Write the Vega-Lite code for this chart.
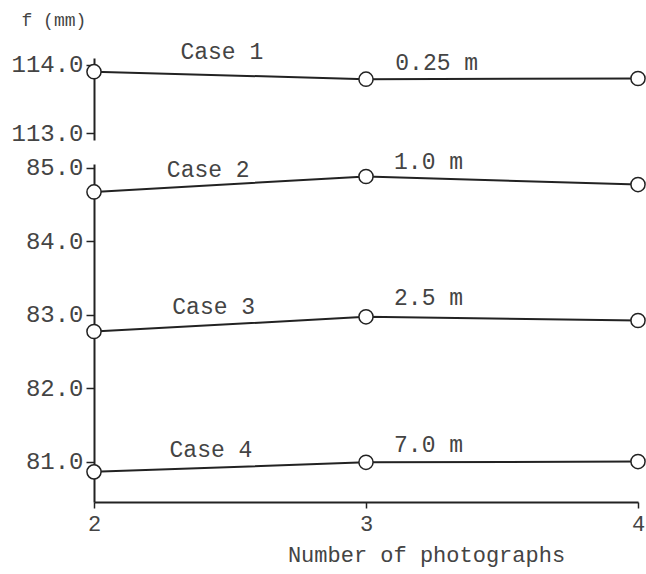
{
  "$schema": "https://vega.github.io/schema/vega-lite/v6.json",
  "background": "white",
  "padding": {"left": 10, "top": 11, "right": 0, "bottom": 12},
  "spacing": 4,
  "config": {
    "font": "Liberation Mono",
    "view": {"stroke": null},
    "axis": {
      "domainColor": "#222",
      "domainWidth": 2,
      "tickColor": "#222",
      "tickWidth": 1.5,
      "tickSize": 8,
      "labelColor": "#444",
      "labelFont": "Liberation Mono",
      "labelFontSize": 24,
      "labelPadding": 3,
      "labelOverlap": false,
      "labelFlush": false,
      "titleColor": "#444",
      "titleFont": "Liberation Mono",
      "titleFontWeight": "normal",
      "grid": false,
      "zindex": 1
    }
  },
  "datasets": {
    "pts": [
      {"segment": "upper", "case": "Case 1", "n": 2, "f": 113.9},
      {"segment": "upper", "case": "Case 1", "n": 3, "f": 113.79},
      {"segment": "upper", "case": "Case 1", "n": 4, "f": 113.8},
      {"segment": "lower", "case": "Case 2", "n": 2, "f": 84.67},
      {"segment": "lower", "case": "Case 2", "n": 3, "f": 84.88},
      {"segment": "lower", "case": "Case 2", "n": 4, "f": 84.77},
      {"segment": "lower", "case": "Case 3", "n": 2, "f": 82.77},
      {"segment": "lower", "case": "Case 3", "n": 3, "f": 82.97},
      {"segment": "lower", "case": "Case 3", "n": 4, "f": 82.92},
      {"segment": "lower", "case": "Case 4", "n": 2, "f": 80.86},
      {"segment": "lower", "case": "Case 4", "n": 3, "f": 80.99},
      {"segment": "lower", "case": "Case 4", "n": 4, "f": 81.0}
    ],
    "labels": [
      {"segment": "upper", "n": 2.47, "f": 114.19, "text": "Case 1"},
      {"segment": "upper", "n": 3.26, "f": 114.03, "text": "0.25 m"},
      {"segment": "lower", "n": 2.42, "f": 84.97, "text": "Case 2"},
      {"segment": "lower", "n": 3.23, "f": 85.08, "text": "1.0 m"},
      {"segment": "lower", "n": 2.44, "f": 83.1, "text": "Case 3"},
      {"segment": "lower", "n": 3.23, "f": 83.23, "text": "2.5 m"},
      {"segment": "lower", "n": 2.43, "f": 81.16, "text": "Case 4"},
      {"segment": "lower", "n": 3.23, "f": 81.23, "text": "7.0 m"}
    ]
  },
  "resolve": {"scale": {"x": "independent", "y": "independent"}},
  "vconcat": [
    {
      "width": 544,
      "height": 82,
      "layer": [
        {
          "data": {"name": "pts"},
          "transform": [{"filter": "datum.segment === 'upper'"}],
          "mark": {"type": "line", "color": "#222", "strokeWidth": 2},
          "encoding": {
            "x": {"field": "n", "type": "quantitative", "scale": {"domain": [2, 4], "nice": false}, "axis": null},
            "y": {"field": "f", "type": "quantitative", "scale": {"domain": [112.9, 114.1], "nice": false, "zero": false},
              "axis": {"values": [113, 114], "format": ".1f", "title": "f (mm)", "titleAngle": 0, "titleAlign": "left", "titleBaseline": "middle", "titleX": -73, "titleY": -38, "titleFontSize": 18}},
            "detail": {"field": "case"}
          }
        },
        {
          "data": {"name": "pts"},
          "transform": [{"filter": "datum.segment === 'upper'"}],
          "mark": {"type": "point", "shape": "circle", "size": 200, "filled": false, "fill": "white", "fillOpacity": 1, "stroke": "#222", "strokeWidth": 1.5, "opacity": 1},
          "encoding": {
            "x": {"field": "n", "type": "quantitative"},
            "y": {"field": "f", "type": "quantitative"}
          }
        },
        {
          "data": {"name": "labels"},
          "transform": [{"filter": "datum.segment === 'upper'"}],
          "mark": {"type": "text", "fontSize": 23, "color": "#444", "baseline": "middle", "align": "center"},
          "encoding": {
            "x": {"field": "n", "type": "quantitative"},
            "y": {"field": "f", "type": "quantitative"},
            "text": {"field": "text"}
          }
        }
      ]
    },
    {
      "width": 544,
      "height": 338,
      "layer": [
        {
          "data": {"name": "pts"},
          "transform": [{"filter": "datum.segment === 'lower'"}],
          "mark": {"type": "line", "color": "#222", "strokeWidth": 2},
          "encoding": {
            "x": {"field": "n", "type": "quantitative", "scale": {"domain": [2, 4], "nice": false},
              "axis": {"values": [2, 3, 4], "tickCount": 20, "labelExpr": "format(datum.value, 'd')", "labelFontSize": 22, "tickSize": 6, "labelPadding": 5, "title": "Number of photographs", "titleFontSize": 22, "titleX": 332, "titleAlign": "center", "titlePadding": 10}},
            "y": {"field": "f", "type": "quantitative", "scale": {"domain": [80.45, 85.05], "nice": false, "zero": false},
              "axis": {"values": [81, 82, 83, 84, 85], "format": ".1f", "title": null}},
            "detail": {"field": "case"}
          }
        },
        {
          "data": {"name": "pts"},
          "transform": [{"filter": "datum.segment === 'lower'"}],
          "mark": {"type": "point", "shape": "circle", "size": 200, "filled": false, "fill": "white", "fillOpacity": 1, "stroke": "#222", "strokeWidth": 1.5, "opacity": 1},
          "encoding": {
            "x": {"field": "n", "type": "quantitative"},
            "y": {"field": "f", "type": "quantitative"}
          }
        },
        {
          "data": {"name": "labels"},
          "transform": [{"filter": "datum.segment === 'lower'"}],
          "mark": {"type": "text", "fontSize": 23, "color": "#444", "baseline": "middle", "align": "center"},
          "encoding": {
            "x": {"field": "n", "type": "quantitative"},
            "y": {"field": "f", "type": "quantitative"},
            "text": {"field": "text"}
          }
        }
      ]
    }
  ]
}
